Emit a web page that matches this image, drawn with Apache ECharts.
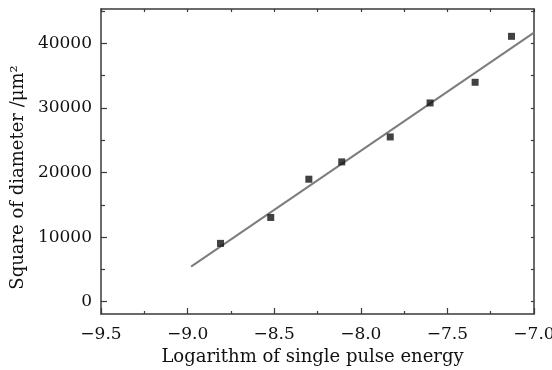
<!DOCTYPE html>
<html>
<head>
<meta charset="utf-8">
<script src="https://cdn.jsdelivr.net/npm/echarts@6/dist/echarts.min.js"></script>
<style>
  html, body { margin: 0; padding: 0; background: #fff; }
  #main { width: 552px; height: 370px; }
</style>
</head>
<body>
<div id="main"></div>
<script>
// measured points
var energyLog = [-8.81, -8.52, -8.30, -8.11, -7.83, -7.60, -7.34, -7.13];
var diamSq = [9030, 13040, 18960, 21640, 25500, 30760, 33960, 41070];
// linear fit ends
var fitX = [-8.98, -7.0];
var fitY = [5440, 41640];
// y tick values
var yMajor = [0, 10000, 20000, 30000, 40000];
var yMinor = [5000, 15000, 25000, 35000, 45000];
var yAll = [0, 5000, 10000, 15000, 20000, 25000, 30000, 35000, 40000, 45000];

var FONT = 'DejaVu Serif';
var AX = '#3a3a3a';
var Y_MIN = -1900, Y_MAX = 45300;

var chart = echarts.init(document.getElementById('main'));

function minus(v) {
  return String(v < 0 ? v.toFixed(1) : v).replace('-', '\u2212');
}

var axisLineStyle = { color: AX, width: 1.5 };

var option = {
  animation: false,
  backgroundColor: '#fff',
  grid: { left: 101, right: 18, top: 9, bottom: 56, containLabel: false, outerBoundsMode: 'none' },
  xAxis: [
    {
      type: 'value', min: -9.5, max: -7.0, interval: 0.5,
      position: 'bottom',
      name: 'Logarithm of single pulse energy',
      nameLocation: 'middle', nameGap: 34,
      nameTextStyle: { fontFamily: FONT, fontSize: 18, color: '#111', padding: [0, 10, 0, 0] },
      axisLine: { show: true, onZero: false, lineStyle: axisLineStyle },
      axisTick: { show: true, inside: true, length: 6, lineStyle: { color: AX, width: 1.2 } },
      minorTick: { show: true, splitNumber: 2, length: 3, lineStyle: { color: AX, width: 1.2 } },
      axisLabel: { fontFamily: FONT, fontSize: 17, color: '#111', margin: 12, formatter: minus },
      splitLine: { show: false }
    },
    {
      type: 'value', min: -9.5, max: -7.0, interval: 0.25,
      position: 'top',
      axisLine: { show: true, onZero: false, lineStyle: axisLineStyle },
      axisTick: { show: true, inside: true, length: 3, lineStyle: { color: AX, width: 1.2 } },
      axisLabel: { show: false },
      splitLine: { show: false }
    }
  ],
  yAxis: [
    {
      type: 'value', min: Y_MIN, max: Y_MAX,
      position: 'left',
      name: 'Square of diameter /\u03bcm\u00b2',
      nameLocation: 'middle', nameGap: 64, nameRotate: 90,
      nameTextStyle: { fontFamily: FONT, fontSize: 18, color: '#111', padding: [0, 32, 0, 0] },
      axisLine: { show: true, onZero: false, lineStyle: axisLineStyle },
      axisTick: { show: true, inside: true, length: 6, customValues: yMajor, lineStyle: { color: AX, width: 1.2 } },
      axisLabel: { fontFamily: FONT, fontSize: 17, color: '#111', margin: 9, customValues: yMajor,
        formatter: function (v) { return String(v); } },
      splitLine: { show: false }
    },
    {
      type: 'value', min: Y_MIN, max: Y_MAX,
      position: 'left',
      axisLine: { show: false },
      axisTick: { show: true, inside: true, length: 4, customValues: yMinor, lineStyle: { color: AX, width: 1.2 } },
      axisLabel: { show: false, customValues: yMinor },
      splitLine: { show: false }
    },
    {
      type: 'value', min: Y_MIN, max: Y_MAX,
      position: 'right',
      axisLine: { show: true, onZero: false, lineStyle: axisLineStyle },
      axisTick: { show: true, inside: true, length: 3, customValues: yAll, lineStyle: { color: AX, width: 1.2 } },
      axisLabel: { show: false, customValues: yAll },
      splitLine: { show: false }
    }
  ],
  series: [
    {
      type: 'line',
      data: fitX.map(function (x, i) { return [x, fitY[i]]; }),
      showSymbol: false,
      lineStyle: { color: '#7d7d7d', width: 2 },
      z: 2
    },
    {
      type: 'scatter',
      data: energyLog.map(function (x, i) { return [x, diamSq[i]]; }),
      symbol: 'rect',
      symbolSize: 7,
      itemStyle: { color: '#111' },
      z: 3
    }
  ]
};

chart.setOption(option);
</script>
</body>
</html>
